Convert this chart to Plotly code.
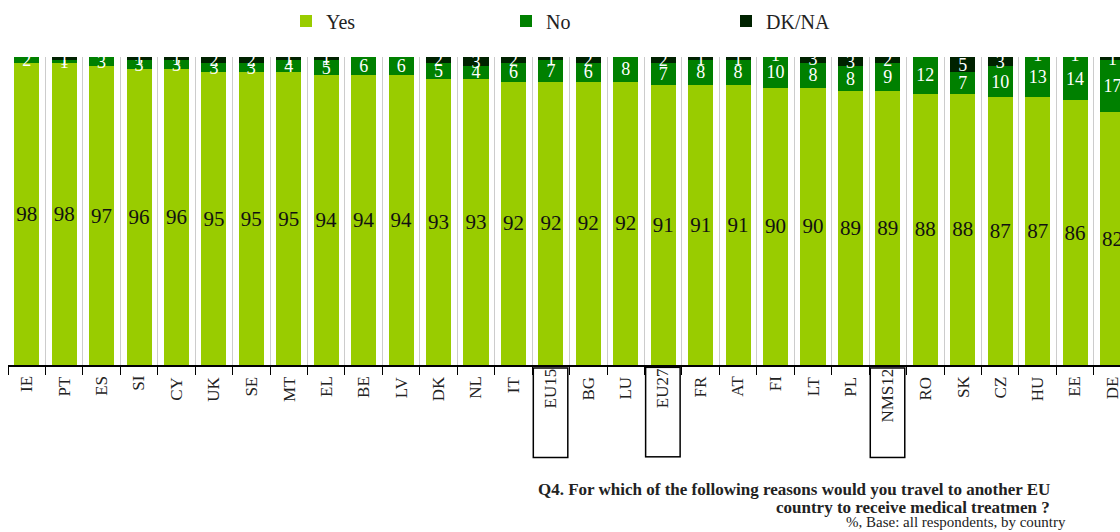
import plotly.graph_objects as go

categories = ["IE", "PT", "ES", "SI", "CY", "UK", "SE", "MT", "EL", "BE", "LV", "DK", "NL", "IT",
              "EU15", "BG", "LU", "EU27", "FR", "AT", "FI", "LT", "PL", "NMS12", "RO", "SK", "CZ",
              "HU", "EE", "DE"]
yes = [98, 98, 97, 96, 96, 95, 95, 95, 94, 94, 94, 93, 93, 92, 92, 92, 92, 91, 91, 91, 90, 90,
       89, 89, 88, 88, 87, 87, 86, 82]
no = [2, 1, 3, 3, 3, 3, 3, 4, 5, 6, 6, 5, 4, 6, 7, 6, 8, 7, 8, 8, 10, 8, 8, 9, 12, 7, 10, 13, 14, 17]
dkna = [0, 1, 0, 1, 1, 2, 2, 1, 1, 0, 0, 2, 3, 2, 1, 2, 0, 2, 1, 1, 1, 3, 3, 2, 0, 5, 3, 1, 1, 1]
boxed = ["EU15", "EU27", "NMS12"]

SERIF = "Liberation Serif, DejaVu Serif, serif"
C_YES = "#99CC00"
C_NO = "#008000"
C_DK = "#002200"

fig = go.Figure()
common = dict(textposition="inside", insidetextanchor="middle", textangle=0,
              constraintext="none", cliponaxis=True)
fig.add_trace(go.Bar(x=categories, y=yes, name="Yes", marker=dict(color=C_YES, line=dict(width=0)),
                     text=[str(v) for v in yes],
                     insidetextfont=dict(family=SERIF, size=21, color="#111111"), **common))
fig.add_trace(go.Bar(x=categories, y=no, name="No", marker=dict(color=C_NO, line=dict(width=0)),
                     text=[str(v) for v in no],
                     insidetextfont=dict(family=SERIF, size=18, color="white"), **common))
fig.add_trace(go.Bar(x=categories, y=dkna, name="DK/NA", marker=dict(color=C_DK, line=dict(width=0)),
                     text=[str(v) for v in dkna],
                     insidetextfont=dict(family=SERIF, size=18, color="white"), **common))

W, H = 1120, 532
ML, MR, MT = 8, 0, 57
MB = H - 365
pw, ph = W - ML - MR, H - MT - MB

annotations = []
for c in categories:
    if c in boxed:
        annotations.append(dict(x=c, y=-0.006, xref="x", yref="paper", text=c, showarrow=False,
                                textangle=-90, xanchor="center", yanchor="top",
                                font=dict(family=SERIF, size=17, color="#222222"),
                                bordercolor="#000000", borderwidth=1.5, borderpad=0,
                                width=88, height=33, align="right"))
    else:
        annotations.append(dict(x=c, y=-0.03, xref="x", yref="paper", text=c, showarrow=False,
                                textangle=-90, xanchor="center", yanchor="top",
                                font=dict(family=SERIF, size=17, color="#222222")))

captions = [
    (1052, 489, "<b>Q4. For which of the following reasons would you travel to another EU</b>", 17),
    (1052, 507, "<b>country to receive medical treatmen ?</b>", 17),
    (1068, 522, "%, Base: all respondents, by country", 15),
]
for sx, sy, txt, fs in captions:
    annotations.append(dict(x=(sx - ML) / pw, y=(H - MB - sy) / ph, xref="paper", yref="paper",
                            text=txt, showarrow=False, xanchor="right", yanchor="middle",
                            font=dict(family=SERIF, size=fs, color="#222222")))

fig.update_layout(
    width=W, height=H,
    barmode="stack", bargap=0.33,
    plot_bgcolor="white", paper_bgcolor="white",
    margin=dict(l=ML, r=MR, t=MT, b=MB, autoexpand=False),
    font=dict(family=SERIF, color="#222222"),
    showlegend=True,
    legend=dict(orientation="h", xref="container", yref="container",
                x=286 / W, xanchor="left",
                y=1 - 21 / H, yanchor="middle",
                entrywidth=175, entrywidthmode="pixels", itemwidth=30,
                font=dict(family=SERIF, size=20, color="#222222"), traceorder="normal"),
    xaxis=dict(type="category", range=[-0.5, 29.2], tickson="boundaries", ticks="outside",
               ticklen=8, tickcolor="#000000", showticklabels=False, showline=True,
               linecolor="#000000", linewidth=1.5, showgrid=True, gridcolor="#cccccc", gridwidth=1),
    yaxis=dict(range=[0, 100], visible=False, showgrid=False, zeroline=False),
    annotations=annotations,
)

fig.write_html("out.html", config={"displayModeBar": False},
               post_script="document.body.style.margin='0';document.body.style.overflow='hidden';")
